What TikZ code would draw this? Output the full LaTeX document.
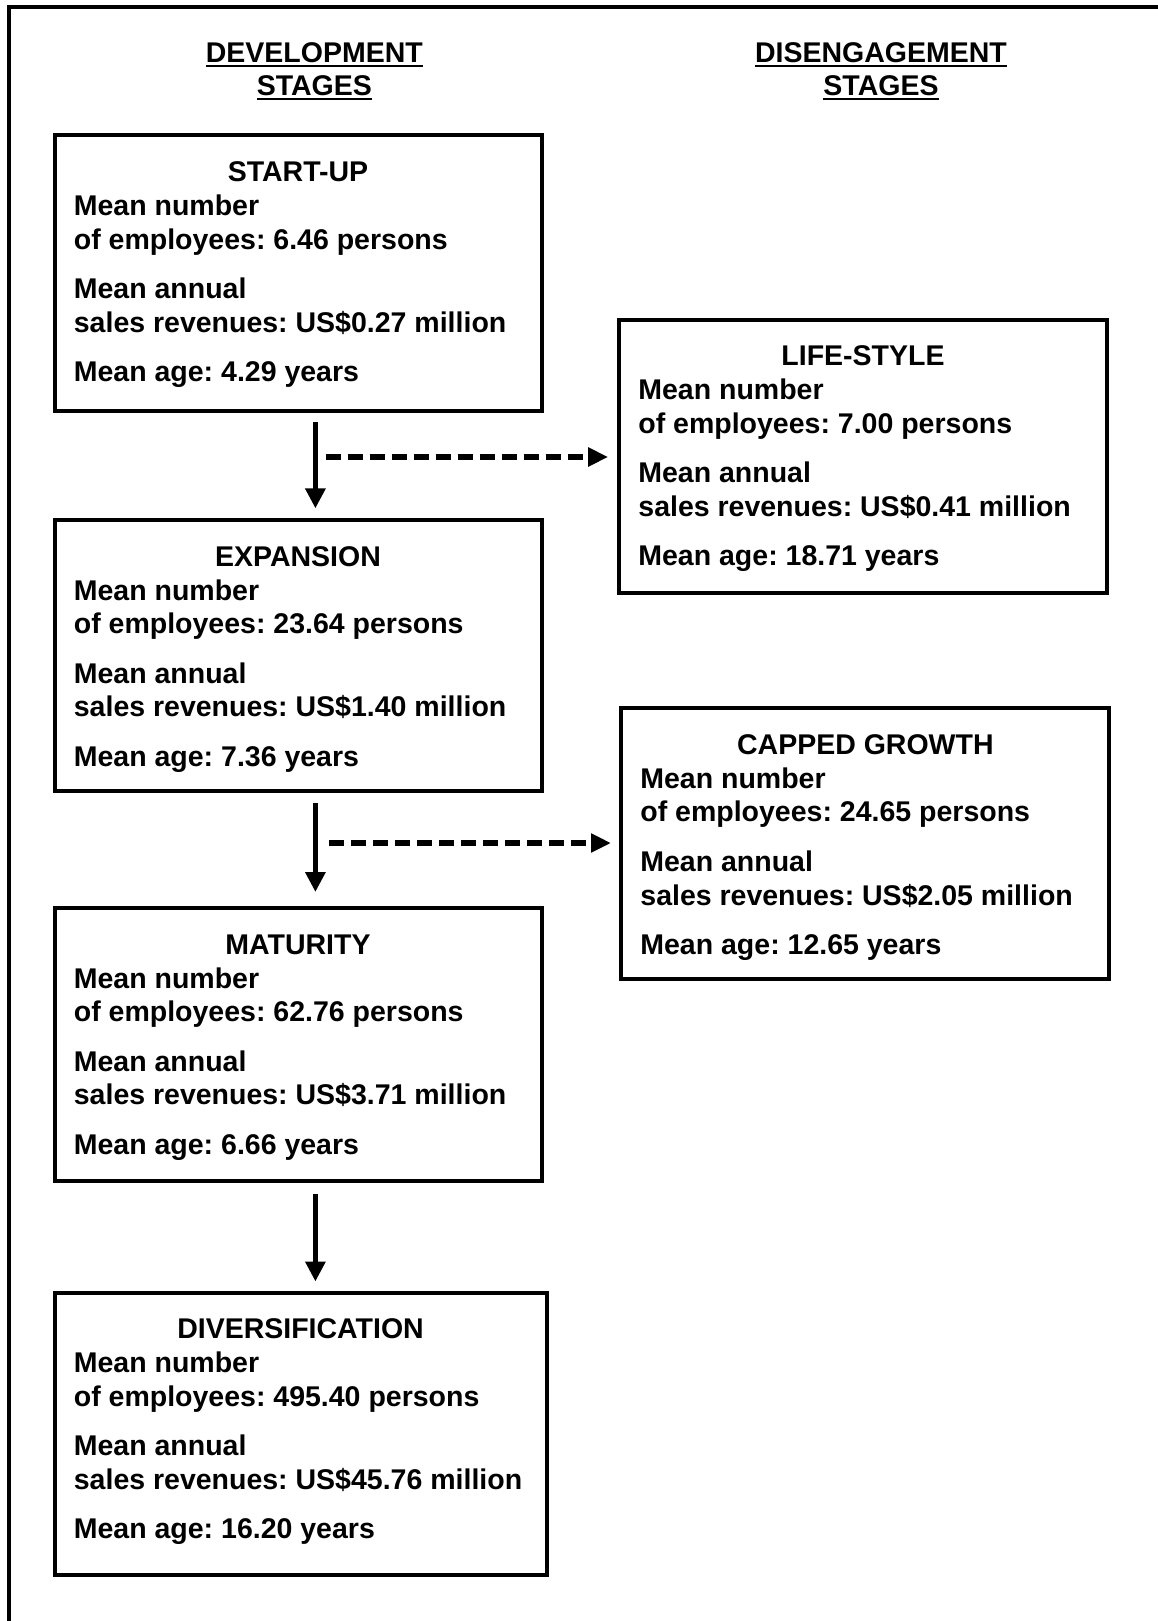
\documentclass[tikz,border=0pt]{standalone}
\usepackage{fontspec}
\setmainfont{Liberation Sans}
\usetikzlibrary{arrows.meta,calc}
\newcommand\hdul[1]{\setbox0\hbox{#1}\rlap{\rule[-2.4pt]{\wd0}{1pt}}\box0}
\frenchspacing
\begin{document}
\begin{tikzpicture}[x=0.5pt,y=-0.5pt]
\tikzset{
 stbox/.style={draw, line width=2pt, outer sep=0pt, inner sep=0pt, anchor=north west},
 ttl/.style={font=\fontsize{14.25}{16.8}\selectfont\bfseries, inner sep=0pt, anchor=base},
 body/.style={font=\fontsize{14.25}{16.8}\selectfont\bfseries, inner sep=0pt, anchor=north west, align=left},
 hd/.style={font=\fontsize{14.25}{16.5}\selectfont\bfseries, inner sep=0pt, anchor=north, align=center},
 arr/.style={line width=2.8pt, -{Triangle[length=10pt,width=9.7pt]}},
 darr/.style={line width=3pt, dash pattern=on 7.5pt off 3.5pt, -{Triangle[length=10pt,width=9pt]}},
}
\useasboundingbox (0,0) rectangle (1157,1621);
% outer frame (top and left edges only)
\draw[line width=2pt] (8.5,1640) -- (8.5,7) -- (1170,7);
% headings
\node[hd] (hdev) at (314.3,42.4) {\hdul{DEVELOPMENT}\\\hdul{STAGES}};
\node[hd] (hdis) at (881,42.4) {\hdul{DISENGAGEMENT}\\\hdul{STAGES}};
% boxes
\node[stbox, minimum width=243.5pt, minimum height=137.5pt] (su) at (54.5,135.5) {};
\node[stbox, minimum width=243.5pt, minimum height=135.5pt] (ex) at (54.5,520) {};
\node[stbox, minimum width=243.5pt, minimum height=136.5pt] (ma) at (54.5,908) {};
\node[stbox, minimum width=246pt, minimum height=141pt] (di) at (54.5,1292.5) {};
\node[stbox, minimum width=243.6pt, minimum height=136.5pt] (ls) at (619.4,319.5) {};
\node[stbox, minimum width=244pt, minimum height=135.5pt] (cg) at (621.4,708.3) {};
% titles
\node[ttl] (sut) at ([yshift=-23pt]su.north) {START-UP};
\node[ttl] (ext) at ([yshift=-23pt]ex.north) {EXPANSION};
\node[ttl] (mat) at ([yshift=-23pt]ma.north) {MATURITY};
\node[ttl] (dit) at ([yshift=-23pt]di.north) {DIVERSIFICATION};
\node[ttl] (lst) at ([yshift=-23pt]ls.north) {LIFE-STYLE};
\node[ttl] (cgt) at ([yshift=-23pt]cg.north) {CAPPED GROWTH};
% bodies
\node[body] (sub) at ([shift={(9.5pt,-29.5pt)}]su.north west) {Mean number\\of employees: 6.46 persons\\[8pt]Mean annual\\sales revenues: US\$0.27 million\\[8pt]Mean age: 4.29 years};
\node[body] (exb) at ([shift={(9.5pt,-29.5pt)}]ex.north west) {Mean number\\of employees: 23.64 persons\\[8pt]Mean annual\\sales revenues: US\$1.40 million\\[8pt]Mean age: 7.36 years};
\node[body] (mab) at ([shift={(9.5pt,-29.5pt)}]ma.north west) {Mean number\\of employees: 62.76 persons\\[8pt]Mean annual\\sales revenues: US\$3.71 million\\[8pt]Mean age: 6.66 years};
\node[body] (dib) at ([shift={(9.5pt,-29.5pt)}]di.north west) {Mean number\\of employees: 495.40 persons\\[8pt]Mean annual\\sales revenues: US\$45.76 million\\[8pt]Mean age: 16.20 years};
\node[body] (lsb) at ([shift={(9.3pt,-29.5pt)}]ls.north west) {Mean number\\of employees: 7.00 persons\\[8pt]Mean annual\\sales revenues: US\$0.41 million\\[8pt]Mean age: 18.71 years};
\node[body] (cgb) at ([shift={(9.3pt,-29.5pt)}]cg.north west) {Mean number\\of employees: 24.65 persons\\[8pt]Mean annual\\sales revenues: US\$2.05 million\\[8pt]Mean age: 12.65 years};
% vertical arrows
\draw[arr, shorten <=5.8pt, shorten >=5.8pt] ([xshift=8.7pt]su.south) -- ([xshift=8.7pt]su.south |- ex.north);
\draw[arr, shorten <=6.2pt, shorten >=8pt] ([xshift=8.7pt]ex.south) -- ([xshift=8.7pt]ex.south |- ma.north);
\draw[arr, shorten <=6.5pt, shorten >=5.5pt] ([xshift=8.7pt]ma.south) -- ([xshift=8.7pt]ma.south |- di.north);
% dashed arrows
\coordinate (d1) at (325.7,457);
\coordinate (d2) at (329,843);
\draw[darr, shorten >=5.6pt] (d1) -- (d1 -| ls.west);
\draw[darr, shorten >=5.2pt] (d2) -- (d2 -| cg.west);
\end{tikzpicture}
\end{document}
